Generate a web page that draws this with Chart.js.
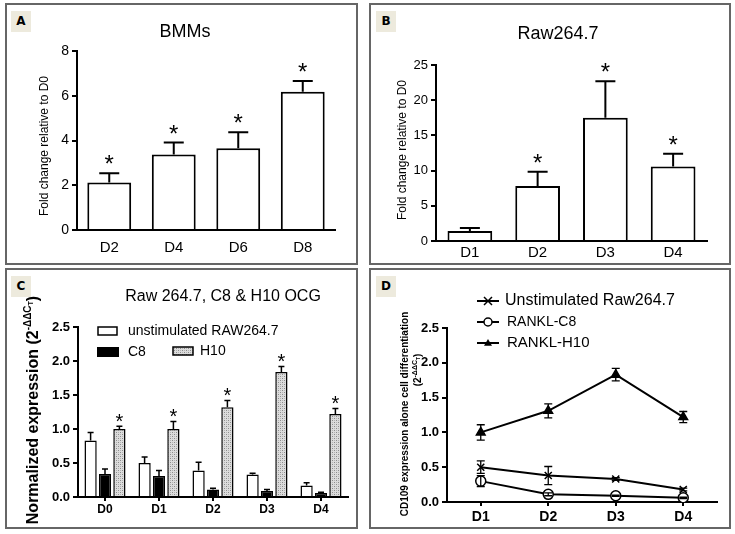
<!DOCTYPE html>
<html><head><meta charset="utf-8">
<script src="https://cdn.jsdelivr.net/npm/chart.js@4.4.1/dist/chart.umd.min.js"></script>
<style>
html,body{margin:0;padding:0;background:#fff}
#wrap{position:relative;width:735px;height:534px;overflow:hidden;background:#fff}
.panel{position:absolute;border:2px solid #666;box-sizing:border-box}
.tag{position:absolute;width:20px;height:21px;background:#edeadd;font:bold 12px "DejaVu Sans",sans-serif;line-height:21px;text-align:center;color:#000;z-index:5}
canvas{position:absolute;left:0;top:0}
</style></head><body>
<div id="wrap">
<div class="panel" style="left:5px;top:3px;width:353px;height:262px"></div>
<div class="panel" style="left:369px;top:3px;width:362px;height:262px"></div>
<div class="panel" style="left:5px;top:268px;width:353px;height:261px"></div>
<div class="panel" style="left:369px;top:268px;width:362px;height:261px"></div>
<canvas id="cA" width="735" height="534"></canvas>
<canvas id="cB" width="735" height="534"></canvas>
<canvas id="cC" width="735" height="534"></canvas>
<canvas id="cD" width="735" height="534"></canvas>
<div class="tag" style="left:11px;top:11px">A</div>
<div class="tag" style="left:376px;top:11px">B</div>
<div class="tag" style="left:11px;top:276px">C</div>
<div class="tag" style="left:376px;top:276px">D</div>
</div>
<script>
const F = '"Liberation Sans", Arial, Helvetica, sans-serif';

// ---------- DATA ----------
const catsA = ['D2','D4','D6','D8'];
const meanA = [2.12, 3.37, 3.65, 6.18];
const semA  = [0.42, 0.54, 0.72, 0.48];
const starA = [1, 1, 1, 1];
const yTicksA = [0, 2, 4, 6, 8];
const yLabelsA = ['0','2','4','6','8'];

const catsB = ['D1','D2','D3','D4'];
const meanB = [1.42, 7.83, 17.5, 10.6];
const semB  = [0.43, 1.99, 5.2, 1.8];
const starB = [0, 1, 1, 1];
const yTicksB = [0, 5, 10, 15, 20, 25];
const yLabelsB = ['0','5','10','15','20','25'];

const catsC = ['D0','D1','D2','D3','D4'];
const namesC = ['unstimulated RAW264.7','C8','H10'];
const unstimC    = [0.83, 0.50, 0.39, 0.33, 0.17];
const unstimErrC = [0.12, 0.09, 0.12, 0.02, 0.04];
const c8C        = [0.34, 0.31, 0.11, 0.09, 0.06];
const c8ErrC     = [0.07, 0.08, 0.02, 0.02, 0.01];
const h10C       = [1.00, 1.00, 1.32, 1.84, 1.22];
const h10ErrC    = [0.04, 0.11, 0.10, 0.08, 0.08];
const starC = [1, 1, 1, 1, 1];
const yTicksC = [0, 0.5, 1, 1.5, 2, 2.5];
const yLabelsC = ['0.0','0.5','1.0','1.5','2.0','2.5'];

const catsD = ['D1','D2','D3','D4'];
const namesD = ['Unstimulated Raw264.7','RANKL-C8','RANKL-H10'];
const unstimD    = [0.50, 0.38, 0.33, 0.18];
const unstimErrD = [0.09, 0.13, 0.02, 0.02];
const c8D        = [0.30, 0.11, 0.09, 0.06];
const c8ErrD     = [0.08, 0.02, 0.01, 0.01];
const h10D       = [1.00, 1.31, 1.83, 1.22];
const h10ErrD    = [0.11, 0.10, 0.09, 0.08];
const yTicksD = [0, 0.5, 1, 1.5, 2, 2.5];
const yLabelsD = ['0.0','0.5','1.0','1.5','2.0','2.5'];

// ---------- HELPERS ----------
function drawRich(ctx, t){
  ctx.save(); ctx.translate(t.x, t.y); if (t.rot) ctx.rotate(t.rot);
  ctx.fillStyle = '#000'; ctx.textBaseline = 'middle'; ctx.textAlign = 'left';
  let w = 0; t.segs.forEach(s => { ctx.font = s.f; w += ctx.measureText(s.t).width; });
  let x = t.align === 'left' ? 0 : -w/2;
  t.segs.forEach(s => { ctx.font = s.f; ctx.fillText(s.t, x, s.dy || 0); x += ctx.measureText(s.t).width; });
  ctx.restore();
}

const legendFns = {};
const annot = {
  id: 'annot',
  afterDatasetsDraw(chart){
    const o = chart.options.plugins.annot; if (!o) return;
    const ctx = chart.ctx, ys = chart.scales.y;
    chart.data.datasets.forEach((ds, i) => {
      const errs = o.err[i]; if (!errs) return;
      const meta = chart.getDatasetMeta(i);
      meta.data.forEach((el, j) => {
        const v = ds.data[j], e = errs[j];
        const top = ys.getPixelForValue(v + e);
        const bot = o.both ? ys.getPixelForValue(v - e) : ys.getPixelForValue(v);
        ctx.save(); ctx.strokeStyle = '#000'; ctx.lineWidth = o.errW;
        ctx.beginPath();
        ctx.moveTo(el.x, bot); ctx.lineTo(el.x, top);
        ctx.moveTo(el.x - o.cap, top); ctx.lineTo(el.x + o.cap, top);
        if (o.both) { ctx.moveTo(el.x - o.cap, bot); ctx.lineTo(el.x + o.cap, bot); }
        ctx.stroke();
        if (o.stars && o.stars[i] && o.stars[i][j]) {
          ctx.fillStyle = '#000'; ctx.font = o.starFont; ctx.textAlign = 'center'; ctx.textBaseline = 'alphabetic';
          ctx.fillText('*', el.x, top + o.starDy);
        }
        ctx.restore();
      });
    });
    (o.texts || []).forEach(t => drawRich(ctx, t));
    const lf = legendFns[chart.canvas.id];
    if (lf) lf(ctx);
  }
};
Chart.register(annot);

function yScale(min, max, ticks, labels, font){
  return {
    min, max, position: 'left',
    afterBuildTicks: s => { s.ticks = ticks.map(v => ({value: v})); },
    afterFit: s => { s.width = 40; },
    border: {display: true, color: '#000', width: 2},
    grid: {display: true, drawOnChartArea: false, drawTicks: true, tickLength: 5, color: '#000', lineWidth: 2},
    ticks: {color: '#000', font, padding: 3, callback: (v, i) => labels[i]}
  };
}
function xScale(font, tickLen, pad, offset){
  return {
    type: 'category', offset: offset,
    afterFit: s => { s.height = 30; },
    border: {display: true, color: '#000', width: 2},
    grid: {display: true, offset: false, drawOnChartArea: false, drawTicks: tickLen > 0, tickLength: tickLen, color: '#000', lineWidth: 2},
    ticks: {color: '#000', font, padding: pad, maxRotation: 0, autoSkip: false}
  };
}
function lay(L, T, R, B){ return {padding: {left: L - 40, top: T, right: 735 - R, bottom: 534 - B - 30}}; }

const base = {responsive: false, animation: false, events: []};

// ---------- A ----------
new Chart(document.getElementById('cA'), {
  type: 'bar',
  data: {labels: catsA, datasets: [{data: meanA, backgroundColor: '#fff', borderColor: '#000', borderWidth: 2, categoryPercentage: 1, barPercentage: 0.68}]},
  options: Object.assign({}, base, {
    layout: lay(77, 51, 335, 230),
    scales: {
      x: xScale({family: F, size: 15}, 0, 9, true),
      y: yScale(0, 8, yTicksA, yLabelsA, {family: F, size: 14})
    },
    plugins: {legend: {display: false}, tooltip: {enabled: false},
      annot: {err: [semA], errW: 2, cap: 10, stars: [starA], starFont: '24px ' + F, starDy: -1,
        texts: [
          {x: 185, y: 32, segs: [{t: 'BMMs', f: '18px ' + F}]},
          {x: 45, y: 146, rot: -Math.PI/2, segs: [{t: 'Fold change relative to D0', f: '12px ' + F}]}
        ]}}
  })
});

// ---------- B ----------
new Chart(document.getElementById('cB'), {
  type: 'bar',
  data: {labels: catsB, datasets: [{data: meanB, backgroundColor: '#fff', borderColor: '#000', borderWidth: 2, categoryPercentage: 1, barPercentage: 0.66}]},
  options: Object.assign({}, base, {
    layout: lay(436, 65, 707, 241),
    scales: {
      x: xScale({family: F, size: 15}, 0, 3, true),
      y: yScale(0, 25, yTicksB, yLabelsB, {family: F, size: 13})
    },
    plugins: {legend: {display: false}, tooltip: {enabled: false},
      annot: {err: [semB], errW: 2, cap: 10, stars: [starB], starFont: '24px ' + F, starDy: -1,
        texts: [
          {x: 558, y: 34, segs: [{t: 'Raw264.7', f: '18px ' + F}]},
          {x: 403, y: 150, rot: -Math.PI/2, segs: [{t: 'Fold change relative to D0', f: '12px ' + F}]}
        ]}}
  })
});

// ---------- C ----------
const ctxC = document.getElementById('cC').getContext('2d');
function makeHatch(ctx){
  const c = document.createElement('canvas'); c.width = 4; c.height = 4;
  const g = c.getContext('2d');
  g.fillStyle = '#dcdcdc'; g.fillRect(0, 0, 4, 4);
  g.fillStyle = '#8c8c8c'; g.fillRect(0, 0, 1, 1); g.fillRect(2, 2, 1, 1);
  g.fillStyle = '#b4b4b4'; g.fillRect(2, 0, 1, 1); g.fillRect(0, 2, 1, 1);
  return ctx.createPattern(c, 'repeat');
}
const hatch = makeHatch(ctxC);
const barC = {borderColor: '#000', borderWidth: 1.5, categoryPercentage: 0.8, barPercentage: 0.85};
legendFns.cC = ctx => {
  ctx.save(); ctx.lineWidth = 1.5; ctx.strokeStyle = '#000';
  ctx.fillStyle = '#fff'; ctx.fillRect(98, 327, 19, 8); ctx.strokeRect(98, 327, 19, 8);
  ctx.fillStyle = '#000'; ctx.fillRect(97, 347, 22, 10);
  ctx.fillStyle = hatch; ctx.fillRect(173, 347, 20, 8); ctx.strokeRect(173, 347, 20, 8);
  ctx.restore();
  drawRich(ctx, {x: 128, y: 331, align: 'left', segs: [{t: namesC[0], f: '14px ' + F}]});
  drawRich(ctx, {x: 128, y: 352, align: 'left', segs: [{t: namesC[1], f: '14px ' + F}]});
  drawRich(ctx, {x: 200, y: 351, align: 'left', segs: [{t: namesC[2], f: '14px ' + F}]});
};
new Chart(ctxC, {
  type: 'bar',
  data: {labels: catsC, datasets: [
    Object.assign({label: namesC[0], data: unstimC, backgroundColor: '#fff'}, barC),
    Object.assign({label: namesC[1], data: c8C, backgroundColor: '#000'}, barC),
    Object.assign({label: namesC[2], data: h10C, backgroundColor: hatch}, barC)
  ]},
  options: Object.assign({}, base, {
    layout: lay(78, 327, 348, 497),
    scales: {
      x: xScale({family: F, size: 12, weight: 'bold'}, 4, 1, true),
      y: yScale(0, 2.5, yTicksC, yLabelsC, {family: F, size: 13, weight: 'bold'})
    },
    plugins: {legend: {display: false}, tooltip: {enabled: false},
      annot: {err: [unstimErrC, c8ErrC, h10ErrC], errW: 1.5, cap: 3, stars: [null, null, starC], starFont: '20px ' + F, starDy: 1.5,
        texts: [
          {x: 223, y: 297, segs: [{t: 'Raw 264.7, C8 & H10 OCG', f: '16px ' + F}]},
          {x: 34, y: 410, rot: -Math.PI/2, segs: [
            {t: 'Normalized expression (2', f: 'bold 16px ' + F},
            {t: '-ΔΔC', f: 'bold 10px ' + F, dy: -6},
            {t: 'T', f: 'bold 7px ' + F, dy: -3},
            {t: ')', f: 'bold 16px ' + F}
          ]}
        ]
      }}
  })
});

// ---------- D ----------
function marker(ctx, style, x, y, r){
  ctx.save(); ctx.strokeStyle = '#000'; ctx.fillStyle = '#000'; ctx.lineWidth = 1.5;
  ctx.beginPath();
  if (style === 'crossRot') { ctx.moveTo(x - r, y - r); ctx.lineTo(x + r, y + r); ctx.moveTo(x + r, y - r); ctx.lineTo(x - r, y + r); ctx.stroke(); }
  else if (style === 'circle') { ctx.fillStyle = '#fff'; ctx.arc(x, y, r, 0, Math.PI*2); ctx.fill(); ctx.stroke(); }
  else { ctx.moveTo(x, y - r); ctx.lineTo(x + r, y + r*0.7); ctx.lineTo(x - r, y + r*0.7); ctx.closePath(); ctx.fill(); }
  ctx.restore();
}
legendFns.cD = ctx => {
  const rows = [{y: 301, s: 'crossRot', f: '16px ', x: 505}, {y: 322, s: 'circle', f: '14px ', x: 507}, {y: 343, s: 'triangle', f: '15px ', x: 507}];
  rows.forEach((r, i) => {
    ctx.save(); ctx.strokeStyle = '#000'; ctx.lineWidth = 2;
    ctx.beginPath(); ctx.moveTo(477, r.y); ctx.lineTo(499, r.y); ctx.stroke(); ctx.restore();
    marker(ctx, r.s, 488, r.y, 4);
    drawRich(ctx, {x: r.x, y: r.y, align: 'left', segs: [{t: namesD[i], f: r.f + F}]});
  });
};
const lineD = {borderColor: '#000', borderWidth: 2, tension: 0, fill: false, pointBorderColor: '#000', pointBorderWidth: 1.5, pointRadius: 5};
new Chart(document.getElementById('cD'), {
  type: 'line',
  data: {labels: catsD, datasets: [
    Object.assign({label: namesD[0], data: unstimD, pointStyle: 'crossRot', pointBackgroundColor: '#000'}, lineD),
    Object.assign({label: namesD[1], data: c8D, pointStyle: 'circle', pointBackgroundColor: '#fff'}, lineD),
    Object.assign({label: namesD[2], data: h10D, pointStyle: 'triangle', pointBackgroundColor: '#000'}, lineD)
  ]},
  options: Object.assign({}, base, {
    layout: lay(447, 328, 717, 502),
    scales: {
      x: xScale({family: F, size: 14, weight: 'bold'}, 4, 3, true),
      y: yScale(0, 2.5, yTicksD, yLabelsD, {family: F, size: 13, weight: 'bold'})
    },
    plugins: {legend: {display: false}, tooltip: {enabled: false},
      annot: {err: [unstimErrD, c8ErrD, h10ErrD], errW: 1.3, cap: 4, both: true,
        texts: [
          {x: 405, y: 414, rot: -Math.PI/2, segs: [{t: 'CD109 expression alone cell differentiation', f: 'bold 10px ' + F}]},
          {x: 418, y: 370, rot: -Math.PI/2, segs: [
            {t: '(2', f: 'bold 10px ' + F},
            {t: '-ΔΔC', f: 'bold 7px ' + F, dy: -3},
            {t: 'T', f: 'bold 5px ' + F, dy: 1},
            {t: ')', f: 'bold 10px ' + F}
          ]}
        ]
      }}
  })
});
</script>
</body></html>
